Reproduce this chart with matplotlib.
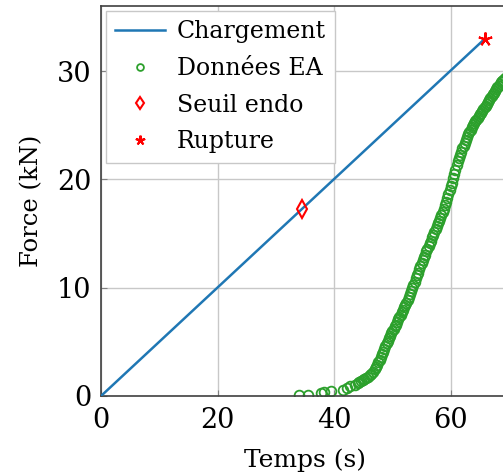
import matplotlib.pyplot as plt

# chargement lineaire
load_t = [0.0, 65.9]
load_f = [0.0, 33.0]

# seuil d'endommagement et rupture
seuil_t = [34.5]
seuil_f = [17.3]
rupture_t = [65.9]
rupture_f = [33.0]

# donnees emission acoustique
ea_t = [34.0, 35.5, 37.8, 38.3, 39.4, 41.6, 42.2, 42.8, 43.5, 44.1,
        44.3, 44.6, 44.9, 45.2, 45.5, 45.8, 46.1, 46.4, 46.7, 47.0,
        47.2, 47.4, 47.6, 47.8, 48.0, 48.2, 48.4, 48.6, 48.8, 49.0,
        49.2, 49.4, 49.6, 49.8, 50.0, 50.2, 50.4, 50.6, 50.8, 51.0,
        51.2, 51.4, 51.6, 51.8, 52.0, 52.2, 52.4, 52.6, 52.8, 53.0,
        53.2, 53.4, 53.6, 53.8, 54.0, 54.2, 54.4, 54.6, 54.8, 55.0,
        55.2, 55.4, 55.6, 55.8, 56.0, 56.2, 56.4, 56.6, 56.8, 57.0,
        57.2, 57.4, 57.6, 57.8, 58.0, 58.2, 58.4, 58.6, 58.8, 59.0,
        59.2, 59.4, 59.6, 59.8, 60.0, 60.2, 60.4, 60.6, 60.8, 61.0,
        61.2, 61.4, 61.6, 61.8, 62.0, 62.2, 62.4, 62.6, 62.8, 63.0,
        63.2, 63.4, 63.6, 63.8, 64.0, 64.2, 64.4, 64.6, 64.8, 65.0,
        65.2, 65.4, 65.6, 65.8, 66.0, 66.2, 66.4, 66.6, 66.8, 67.0,
        67.2, 67.4, 67.6, 67.8, 68.0, 68.2, 68.4, 68.6, 68.8, 69.0, 69.3]
ea_f = [0.05, 0.05, 0.25, 0.35, 0.5, 0.6, 0.75, 0.9, 1.0, 1.2,
        1.25, 1.35, 1.45, 1.55, 1.7, 1.8, 1.95, 2.05, 2.2, 2.45,
        2.7, 2.9, 3.1, 3.35, 3.6, 3.85, 4.1, 4.3, 4.6, 4.85,
        5.1, 5.35, 5.55, 5.8, 6.0, 6.2, 6.45, 6.6, 6.85, 7.1,
        7.3, 7.5, 7.75, 7.95, 8.2, 8.4, 8.6, 8.85, 9.1, 9.4,
        9.7, 10.0, 10.25, 10.55, 10.85, 11.15, 11.4, 11.7, 12.0, 12.3,
        12.55, 12.8, 13.05, 13.35, 13.6, 13.85, 14.1, 14.35, 14.65, 14.9,
        15.15, 15.4, 15.7, 15.95, 16.2, 16.45, 16.75, 17.0, 17.3, 17.6,
        17.95, 18.3, 18.65, 19.0, 19.35, 19.7, 20.1, 20.5, 20.9, 21.3,
        21.65, 21.95, 22.25, 22.55, 22.85, 23.1, 23.4, 23.65, 23.9, 24.15,
        24.4, 24.6, 24.8, 25.0, 25.2, 25.35, 25.5, 25.7, 25.85, 26.0,
        26.15, 26.3, 26.5, 26.65, 26.8, 27.0, 27.15, 27.35, 27.5, 27.7,
        27.85, 28.0, 28.2, 28.35, 28.5, 28.65, 28.8, 28.95, 29.05, 29.2, 29.35]

x_ticks = [0, 20, 40, 60]
y_ticks = [0, 10, 20, 30]

plt.rcParams['font.family'] = ['DejaVu Serif']
plt.rcParams['font.size'] = 17

fig = plt.figure(figsize=(5.03, 4.76), dpi=100)
ax = fig.add_axes([101 / 503, 80 / 476, 408 / 503, 390 / 476])

ax.plot(load_t, load_f, color='#1f77b4', lw=1.8, label='Chargement', zorder=3)
ax.plot(ea_t, ea_f, 'o', ls='none', mfc='none', mec='#2ca02c', mew=1.3, ms=7,
        label='Données EA', zorder=2)
ax.plot(seuil_t, seuil_f, 'd', ls='none', mfc='none', mec='red', mew=1.5, ms=9,
        label='Seuil endo', zorder=4)
ax.plot(rupture_t, rupture_f, marker=(5, 2, 0), ls='none', color='red', mew=1.5, ms=10,
        label='Rupture', zorder=4)

ax.set_xlim(0, 70)
ax.set_ylim(0, 36)
ax.set_xticks(x_ticks)
ax.set_yticks(y_ticks)
ax.grid(True, color='#c8c8c8', lw=1.0)
ax.set_axisbelow(True)
ax.tick_params(direction='in', length=4, color='#808080', labelsize=19.5)
ax.tick_params(axis='x', pad=8)
ax.tick_params(axis='y', pad=7)
for s in ax.spines.values():
    s.set_color('#404040')
    s.set_linewidth(1.2)

ax.set_xlabel('Temps (s)', fontsize=18, labelpad=10)
ax.set_ylabel('Force (kN)', fontsize=17.5, labelpad=10)

leg = ax.legend(loc='upper left', fancybox=False, framealpha=1, edgecolor='#c8c8c8',
                handlelength=2.1, handletextpad=0.5, borderaxespad=0.2, labelspacing=0.58,
                markerscale=0.7)
leg.get_frame().set_linewidth(1.0)

fig.savefig('out.png', dpi=100)
